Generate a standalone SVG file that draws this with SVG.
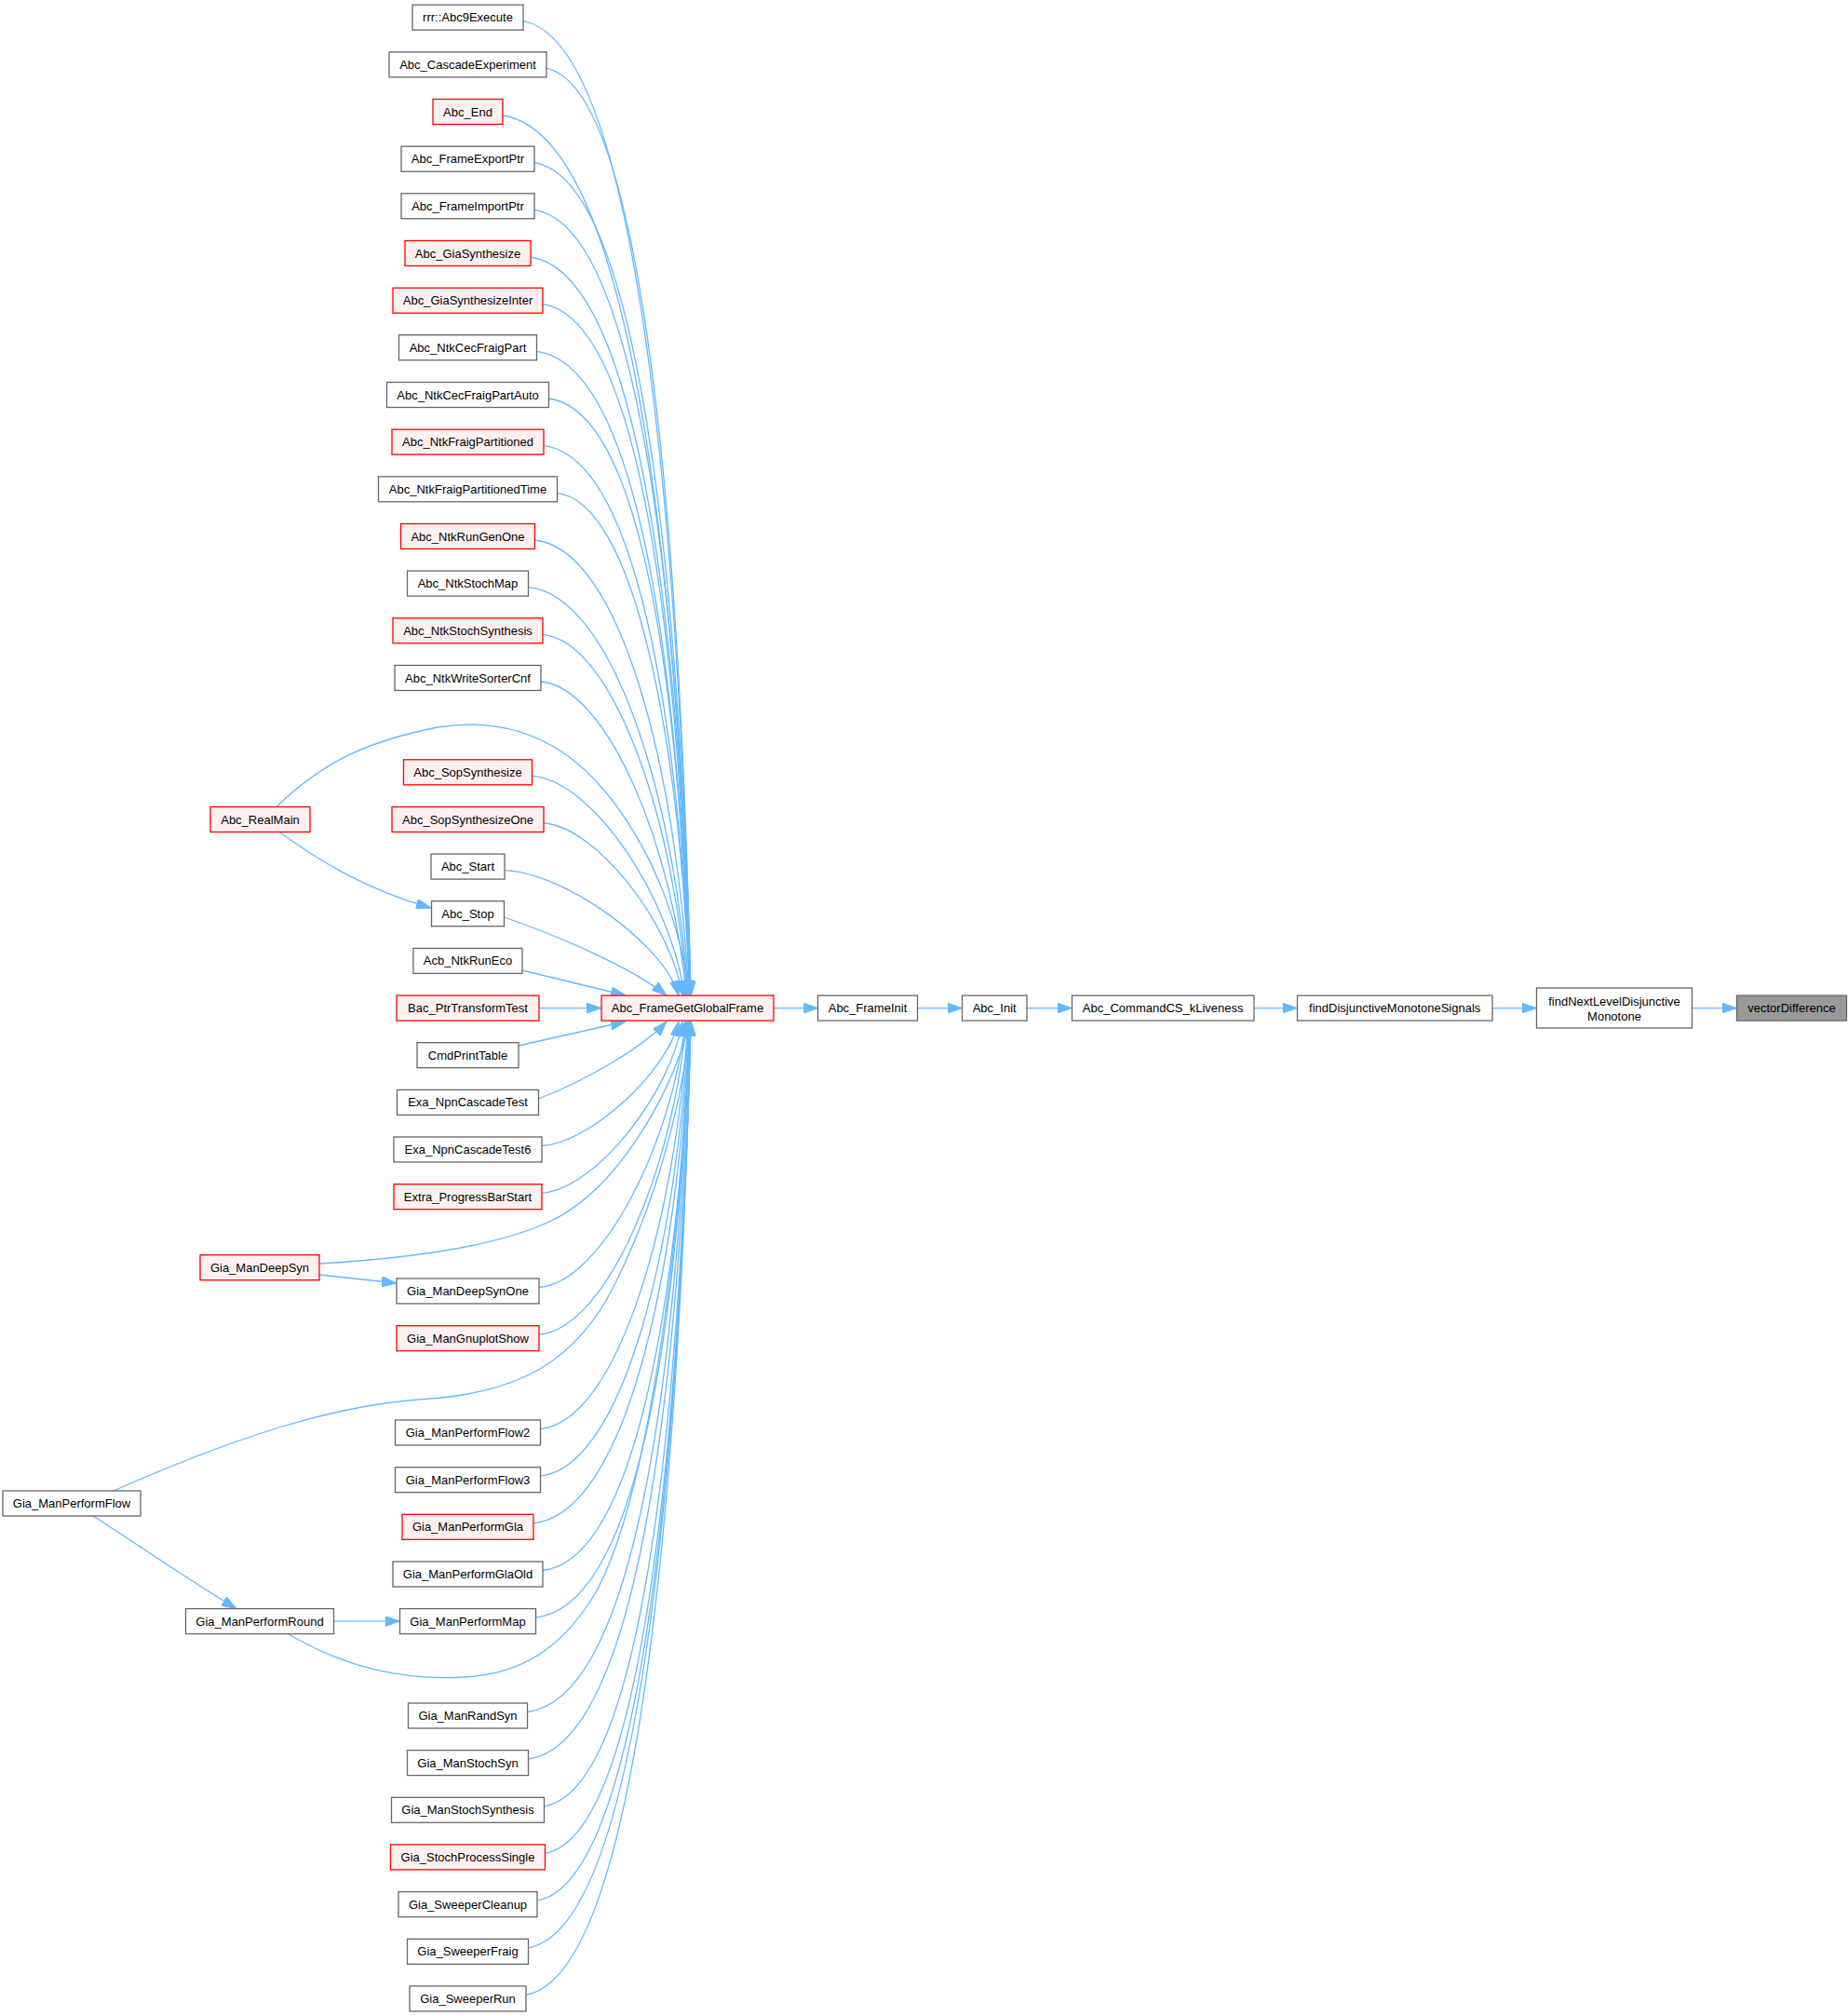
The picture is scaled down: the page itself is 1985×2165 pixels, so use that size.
<svg xmlns="http://www.w3.org/2000/svg" width="1985" height="2165" viewBox="0 0 1985 2165">
<defs>
<style>
.n rect{fill:#ffffff;stroke:#666666;stroke-width:1.3}
.r rect{fill:#FFF0F0;stroke:#FF0000;stroke-width:1.3}
.g rect{fill:#999999;stroke:#666666;stroke-width:1.3}
text{font-family:"Liberation Sans",Arial,Helvetica,sans-serif;font-size:13px;text-anchor:middle;fill:#000000}
.e path{fill:none;stroke:#63B8FF;stroke-width:1.3;marker-end:url(#a)}
</style>
<marker id="a" markerUnits="userSpaceOnUse" markerWidth="16" markerHeight="11" viewBox="0 0 16 11" refX="16" refY="5.5" orient="auto">
<path d="M0,0 L16,5.5 L0,11 z" fill="#63B8FF" stroke="#63B8FF" stroke-width="1"/>
</marker>
</defs>
<rect x="0" y="0" width="1985" height="2165" fill="#ffffff"/>
<g id="edges" class="e">
<path d="M562,22.7 C679,43.6 727.6,509.2 742,1069"/>
<path d="M587,73.4 C687.8,93.3 729.6,536.4 742,1069"/>
<path d="M540,124 C671.3,142.9 725.8,563.4 742,1069"/>
<path d="M574,174.7 C683.2,192.6 728.6,590.5 742,1069"/>
<path d="M574,225.3 C683.2,242.2 728.6,617.6 742,1069"/>
<path d="M570,276 C681.8,291.9 728.2,644.7 742,1069"/>
<path d="M583,326.7 C685.7,341.5 728.4,671.9 741,1069"/>
<path d="M576.5,377.3 C683.4,391.1 727.8,698.9 741,1069"/>
<path d="M589.5,428 C688,440.8 728.9,726.1 741,1069"/>
<path d="M584,478.6 C681.3,490.4 728.4,761.1 741,1069"/>
<path d="M598.5,529.3 C682.6,540.1 729.6,794.8 741,1069"/>
<path d="M574.5,580 C667.2,589.8 726.8,827.2 740,1069"/>
<path d="M567.5,630.6 C658.4,639.4 725.3,858.1 739,1069"/>
<path d="M583,681.3 C660.5,689.1 725.6,887.7 738,1069"/>
<path d="M581,732 C654.3,738.7 724.5,916 737,1069"/>
<path d="M571.5,833.3 C638.5,838 721.9,968.4 735,1069"/>
<path d="M584,884 C640.6,887.7 721.1,992.5 733,1069"/>
<path d="M542,934.6 C607.5,937.3 714,1015.2 729,1069"/>
<path d="M541.5,985 C600,1005 680,1040 716,1069"/>
<path d="M561,1042 L672,1069"/>
<path d="M579,1082.6 L646,1082.6"/>
<path d="M557,1123 L672,1097"/>
<path d="M578.5,1180 C630,1160 690,1125 716,1097"/>
<path d="M582,1230.5 C633.5,1227.8 717.2,1150.4 729,1097"/>
<path d="M582,1281.2 C639.4,1277.5 720.9,1173.2 733,1097"/>
<path d="M579,1382.5 C648.1,1376.8 723.4,1222.8 736,1097"/>
<path d="M579,1433.2 C653.3,1426.5 724.4,1249.6 737,1097"/>
<path d="M580.5,1534.5 C664.5,1525.7 726.3,1307.4 739,1097"/>
<path d="M580.5,1585.2 C669.8,1575.4 727.2,1338.4 740,1097"/>
<path d="M573,1635.8 C672.1,1625 727.6,1370.7 741,1097"/>
<path d="M583,1686.5 C681,1674.7 728.4,1404.4 741,1097"/>
<path d="M575.5,1737.1 C683.1,1724.3 727.8,1439.5 741,1097"/>
<path d="M566.5,1838.5 C679.9,1823.7 727,1493.7 741,1097"/>
<path d="M567.5,1889.1 C680.9,1873.3 728,1520.8 742,1097"/>
<path d="M584.5,1939.8 C686.9,1922.9 729.4,1547.9 742,1097"/>
<path d="M585.5,1990.4 C687.2,1972.5 729.5,1575 742,1097"/>
<path d="M577,2041.1 C684.3,2022.2 728.8,1602.1 742,1097"/>
<path d="M567.5,2091.8 C680.9,2071.9 728,1629.2 742,1097"/>
<path d="M565,2142.4 C680,2121.5 727.8,1656.3 742,1097"/>
<path d="M297,866.5 C350,815 400,795 470,781 C540,770 600,790 650,850 C700,910 730,990 741,1069"/>
<path d="M300,893.5 C340,922 390,955 463,975"/>
<path d="M343,1357 C430,1352 530,1340 590,1312 C660,1280 720,1180 741,1097"/>
<path d="M343,1369 L426,1378"/>
<path d="M122,1601 C260,1540 360,1510 450,1503 C560,1497 620,1460 660,1380 C710,1280 735,1170 741,1097"/>
<path d="M100,1628 C150,1660 200,1695 254,1727.6"/>
<path d="M358,1741.1 L429.5,1741.1"/>
<path d="M310,1755 C370,1790 430,1805 500,1801 C570,1797 610,1760 640,1710 C700,1600 735,1300 741,1097"/>
<path d="M831,1082.6 L878.5,1082.6"/>
<path d="M985.5,1082.6 L1033.5,1082.6"/>
<path d="M1103,1082.6 L1151.5,1082.6"/>
<path d="M1347,1082.6 L1393.5,1082.6"/>
<path d="M1603,1082.6 L1650.5,1082.6"/>
<path d="M1817.5,1082.6 L1865.5,1082.6"/>
</g>
<g id="n_rrr_Abc9Execute" class="n"><rect x="443" y="5.2" width="119" height="27"/><text x="502.5" y="23.2">rrr::Abc9Execute</text></g>
<g id="n_Abc_CascadeExperiment" class="n"><rect x="418" y="55.9" width="169" height="27"/><text x="502.5" y="73.9">Abc_CascadeExperiment</text></g>
<g id="n_Abc_End" class="r"><rect x="465" y="106.5" width="75" height="27"/><text x="502.5" y="124.5">Abc_End</text></g>
<g id="n_Abc_FrameExportPtr" class="n"><rect x="431" y="157.2" width="143" height="27"/><text x="502.5" y="175.2">Abc_FrameExportPtr</text></g>
<g id="n_Abc_FrameImportPtr" class="n"><rect x="431" y="207.8" width="143" height="27"/><text x="502.5" y="225.8">Abc_FrameImportPtr</text></g>
<g id="n_Abc_GiaSynthesize" class="r"><rect x="435" y="258.5" width="135" height="27"/><text x="502.5" y="276.5">Abc_GiaSynthesize</text></g>
<g id="n_Abc_GiaSynthesizeInter" class="r"><rect x="422" y="309.2" width="161" height="27"/><text x="502.5" y="327.2">Abc_GiaSynthesizeInter</text></g>
<g id="n_Abc_NtkCecFraigPart" class="n"><rect x="428.5" y="359.8" width="148" height="27"/><text x="502.5" y="377.8">Abc_NtkCecFraigPart</text></g>
<g id="n_Abc_NtkCecFraigPartAuto" class="n"><rect x="415.5" y="410.5" width="174" height="27"/><text x="502.5" y="428.5">Abc_NtkCecFraigPartAuto</text></g>
<g id="n_Abc_NtkFraigPartitioned" class="r"><rect x="421" y="461.1" width="163" height="27"/><text x="502.5" y="479.1">Abc_NtkFraigPartitioned</text></g>
<g id="n_Abc_NtkFraigPartitionedTime" class="n"><rect x="406.5" y="511.8" width="192" height="27"/><text x="502.5" y="529.8">Abc_NtkFraigPartitionedTime</text></g>
<g id="n_Abc_NtkRunGenOne" class="r"><rect x="430.5" y="562.5" width="144" height="27"/><text x="502.5" y="580.5">Abc_NtkRunGenOne</text></g>
<g id="n_Abc_NtkStochMap" class="n"><rect x="437.5" y="613.1" width="130" height="27"/><text x="502.5" y="631.1">Abc_NtkStochMap</text></g>
<g id="n_Abc_NtkStochSynthesis" class="r"><rect x="422" y="663.8" width="161" height="27"/><text x="502.5" y="681.8">Abc_NtkStochSynthesis</text></g>
<g id="n_Abc_NtkWriteSorterCnf" class="n"><rect x="424" y="714.5" width="157" height="27"/><text x="502.5" y="732.5">Abc_NtkWriteSorterCnf</text></g>
<g id="n_Abc_SopSynthesize" class="r"><rect x="433.5" y="815.8" width="138" height="27"/><text x="502.5" y="833.8">Abc_SopSynthesize</text></g>
<g id="n_Abc_SopSynthesizeOne" class="r"><rect x="421" y="866.5" width="163" height="27"/><text x="502.5" y="884.5">Abc_SopSynthesizeOne</text></g>
<g id="n_Abc_RealMain" class="r"><rect x="226" y="866.5" width="107" height="27"/><text x="279.5" y="884.5">Abc_RealMain</text></g>
<g id="n_Abc_Start" class="n"><rect x="463" y="917.1" width="79" height="27"/><text x="502.5" y="935.1">Abc_Start</text></g>
<g id="n_Abc_Stop" class="n"><rect x="463.5" y="967.7" width="78" height="27"/><text x="502.5" y="985.7">Abc_Stop</text></g>
<g id="n_Acb_NtkRunEco" class="n"><rect x="444" y="1018.4" width="117" height="27"/><text x="502.5" y="1036.4">Acb_NtkRunEco</text></g>
<g id="n_Bac_PtrTransformTest" class="r"><rect x="426" y="1069.1" width="153" height="27"/><text x="502.5" y="1087.1">Bac_PtrTransformTest</text></g>
<g id="n_CmdPrintTable" class="n"><rect x="448" y="1119.7" width="109" height="27"/><text x="502.5" y="1137.7">CmdPrintTable</text></g>
<g id="n_Exa_NpnCascadeTest" class="n"><rect x="426.5" y="1170.4" width="152" height="27"/><text x="502.5" y="1188.4">Exa_NpnCascadeTest</text></g>
<g id="n_Exa_NpnCascadeTest6" class="n"><rect x="423" y="1221" width="159" height="27"/><text x="502.5" y="1239">Exa_NpnCascadeTest6</text></g>
<g id="n_Extra_ProgressBarStart" class="r"><rect x="423" y="1271.7" width="159" height="27"/><text x="502.5" y="1289.7">Extra_ProgressBarStart</text></g>
<g id="n_Gia_ManDeepSyn" class="r"><rect x="215" y="1347.7" width="128" height="27"/><text x="279" y="1365.7">Gia_ManDeepSyn</text></g>
<g id="n_Gia_ManDeepSynOne" class="n"><rect x="426" y="1373" width="153" height="27"/><text x="502.5" y="1391">Gia_ManDeepSynOne</text></g>
<g id="n_Gia_ManGnuplotShow" class="r"><rect x="426" y="1423.7" width="153" height="27"/><text x="502.5" y="1441.7">Gia_ManGnuplotShow</text></g>
<g id="n_Gia_ManPerformFlow2" class="n"><rect x="424.5" y="1525" width="156" height="27"/><text x="502.5" y="1543">Gia_ManPerformFlow2</text></g>
<g id="n_Gia_ManPerformFlow3" class="n"><rect x="424.5" y="1575.7" width="156" height="27"/><text x="502.5" y="1593.7">Gia_ManPerformFlow3</text></g>
<g id="n_Gia_ManPerformFlow" class="n"><rect x="3" y="1601" width="148" height="27"/><text x="77" y="1619">Gia_ManPerformFlow</text></g>
<g id="n_Gia_ManPerformGla" class="r"><rect x="432" y="1626.3" width="141" height="27"/><text x="502.5" y="1644.3">Gia_ManPerformGla</text></g>
<g id="n_Gia_ManPerformGlaOld" class="n"><rect x="422" y="1677" width="161" height="27"/><text x="502.5" y="1695">Gia_ManPerformGlaOld</text></g>
<g id="n_Gia_ManPerformRound" class="n"><rect x="199.5" y="1727.6" width="159" height="27"/><text x="279" y="1745.6">Gia_ManPerformRound</text></g>
<g id="n_Gia_ManPerformMap" class="n"><rect x="429.5" y="1727.6" width="146" height="27"/><text x="502.5" y="1745.6">Gia_ManPerformMap</text></g>
<g id="n_Gia_ManRandSyn" class="n"><rect x="438.5" y="1829" width="128" height="27"/><text x="502.5" y="1847">Gia_ManRandSyn</text></g>
<g id="n_Gia_ManStochSyn" class="n"><rect x="437.5" y="1879.6" width="130" height="27"/><text x="502.5" y="1897.6">Gia_ManStochSyn</text></g>
<g id="n_Gia_ManStochSynthesis" class="n"><rect x="420.5" y="1930.3" width="164" height="27"/><text x="502.5" y="1948.3">Gia_ManStochSynthesis</text></g>
<g id="n_Gia_StochProcessSingle" class="r"><rect x="419.5" y="1980.9" width="166" height="27"/><text x="502.5" y="1998.9">Gia_StochProcessSingle</text></g>
<g id="n_Gia_SweeperCleanup" class="n"><rect x="428" y="2031.6" width="149" height="27"/><text x="502.5" y="2049.6">Gia_SweeperCleanup</text></g>
<g id="n_Gia_SweeperFraig" class="n"><rect x="437.5" y="2082.3" width="130" height="27"/><text x="502.5" y="2100.3">Gia_SweeperFraig</text></g>
<g id="n_Gia_SweeperRun" class="n"><rect x="440" y="2132.9" width="125" height="27"/><text x="502.5" y="2150.9">Gia_SweeperRun</text></g>
<g id="n_Abc_FrameGetGlobalFrame" class="r"><rect x="646" y="1069.1" width="185" height="27"/><text x="738.5" y="1087.1">Abc_FrameGetGlobalFrame</text></g>
<g id="n_Abc_FrameInit" class="n"><rect x="878.5" y="1069.1" width="107" height="27"/><text x="932" y="1087.1">Abc_FrameInit</text></g>
<g id="n_Abc_Init" class="n"><rect x="1033.5" y="1069.1" width="69.5" height="27"/><text x="1068.2" y="1087.1">Abc_Init</text></g>
<g id="n_Abc_CommandCS_kLiveness" class="n"><rect x="1151.5" y="1069.1" width="195.5" height="27"/><text x="1249.2" y="1087.1">Abc_CommandCS_kLiveness</text></g>
<g id="n_findDisjunctiveMonotoneSignals" class="n"><rect x="1393.5" y="1069.1" width="209.5" height="27"/><text x="1498.2" y="1087.1">findDisjunctiveMonotoneSignals</text></g>
<g id="n_findNextLevelDisjunctiveMonotone" class="n"><rect x="1650.5" y="1061" width="167" height="43"/><text x="1734" y="1079.5">findNextLevelDisjunctive</text><text x="1734" y="1095.5">Monotone</text></g>
<g id="n_vectorDifference" class="g"><rect x="1865.5" y="1069.1" width="118" height="27"/><text x="1924.5" y="1087.1">vectorDifference</text></g>
</svg>
